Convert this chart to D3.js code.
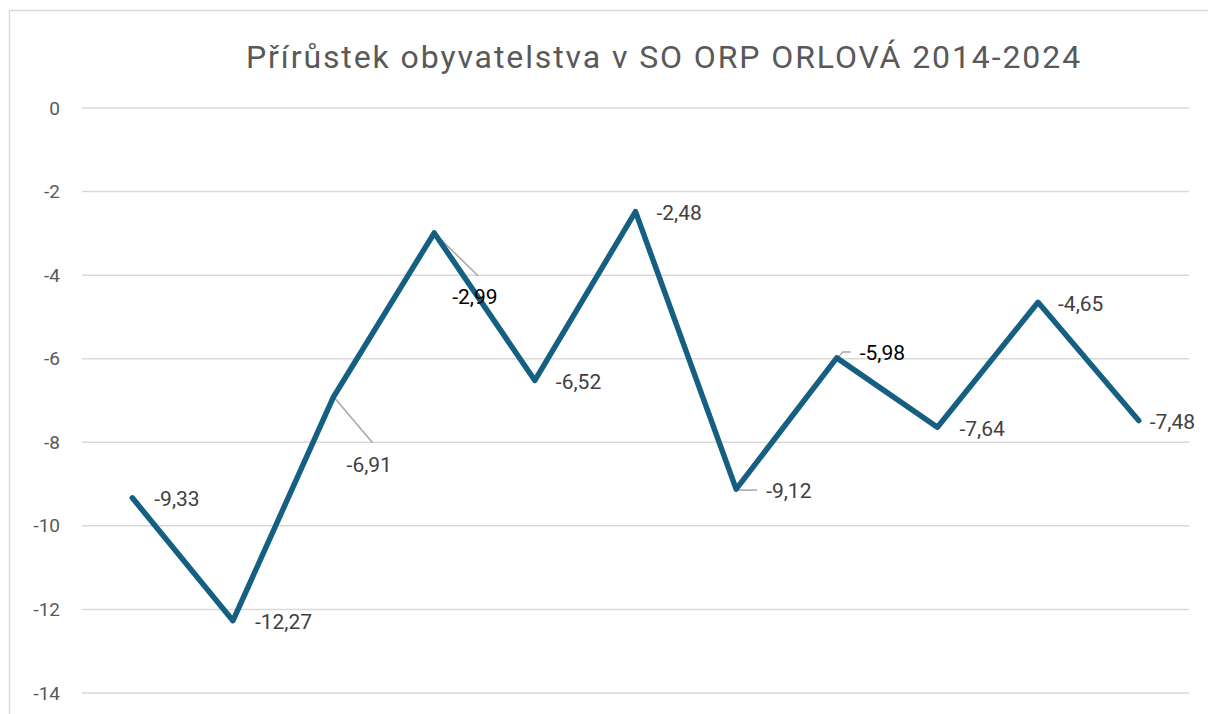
<!DOCTYPE html>
<html>
<head>
<meta charset="utf-8">
<script src="https://cdn.jsdelivr.net/npm/d3@7"></script>
<style>
  body { margin:0; background:#fff; }
  #plot { width:1208px; height:714px; overflow:hidden; }
  text { font-family: Roboto, "Noto Sans", sans-serif; }
</style>
</head>
<body>
<div id="plot"></div>
<script>
// data
var years = ['2014','2015','2016','2017','2018','2019','2020','2021','2022','2023','2024'];
var values = [-9.33, -12.27, -6.91, -2.99, -6.52, -2.48, -9.12, -5.98, -7.64, -4.65, -7.48];
var yTicks = [0, -2, -4, -6, -8, -10, -12, -14];
var title = 'Přírůstek obyvatelstva v SO ORP ORLOVÁ 2014-2024';

// label offsets from the point (dx, dy), leader lines for the moved ones
var labelPos = [
  {dx:22, dy:1}, {dx:22, dy:1},
  {dx:13, dy:68, lead:[[0,0],[39,46]]},
  {dx:18, dy:64, lead:[[0,0],[44,43]], dark:true},
  {dx:21, dy:1}, {dx:21, dy:1},
  {dx:30, dy:2, lead:[[0,1],[21,1]]},
  {dx:23, dy:-5, lead:[[1,0],[6,-6],[14,-6]], dark:true},
  {dx:22, dy:1}, {dx:20, dy:1}, {dx:11, dy:1}
];

var width = 1208, height = 714;
var svg = d3.select('#plot').append('svg')
    .attr('width', width)
    .attr('height', height);

// chart border (only left/top visible in the crop)
svg.append('rect')
    .attr('x', 9.5).attr('y', 10.5)
    .attr('width', 1300).attr('height', 800)
    .style('fill', 'none')
    .style('stroke', '#d9d9d9')
    .style('stroke-width', 1.5);

svg.append('text')
    .attr('x', 664).attr('y', 68)
    .attr('text-anchor', 'middle')
    .style('font-size', '32px')
    .style('letter-spacing', '1.9px')
    .style('fill', '#595959')
    .text(title);

var x = d3.scalePoint().domain(years).range([82, 1189]).padding(0.5);
var y = d3.scaleLinear().domain([-14, 0]).range([693, 108]);

// gridlines
svg.append('g').selectAll('line')
    .data(yTicks).enter().append('line')
    .attr('x1', 82).attr('x2', 1189)
    .attr('y1', function(d){ return y(d); })
    .attr('y2', function(d){ return y(d); })
    .style('stroke', '#d9d9d9')
    .style('stroke-width', 1.5);

// y axis labels
var yAxis = d3.axisLeft(y).tickValues(yTicks).tickSize(0).tickPadding(0)
    .tickFormat(function(d){ return d === 0 ? '0' : '-' + Math.abs(d); });
var ga = svg.append('g').attr('transform', 'translate(60,0)').call(yAxis);
ga.select('.domain').remove();
ga.selectAll('text')
    .style('font-size', '19px')
    .style('font-family', 'Roboto, sans-serif')
    .style('fill', '#595959');

// leader lines
values.forEach(function(v, i) {
    var p = labelPos[i];
    if (!p.lead) return;
    svg.append('polyline')
        .attr('points', p.lead.map(function(q){ return (x(years[i]) + q[0]) + ',' + (y(v) + q[1]); }).join(' '))
        .style('fill', 'none')
        .style('stroke', '#a6a6a6')
        .style('stroke-width', 1.5);
});

var line = d3.line()
    .x(function(d, i){ return x(years[i]); })
    .y(function(d){ return y(d); });

svg.append('path')
    .datum(values)
    .attr('d', line)
    .style('fill', 'none')
    .style('stroke', '#156082')
    .style('stroke-width', 5.5)
    .style('stroke-linejoin', 'round')
    .style('stroke-linecap', 'round');

// data labels
svg.append('g').selectAll('text')
    .data(values).enter().append('text')
    .attr('x', function(d, i){ return x(years[i]) + labelPos[i].dx; })
    .attr('y', function(d, i){ return y(d) + labelPos[i].dy; })
    .attr('dy', '0.35em')
    .style('font-size', '21px')
    .style('fill', function(d, i){ return labelPos[i].dark ? '#000' : '#404040'; })
    .text(function(d){ return d.toFixed(2).replace('.', ','); });
</script>
</body>
</html>
